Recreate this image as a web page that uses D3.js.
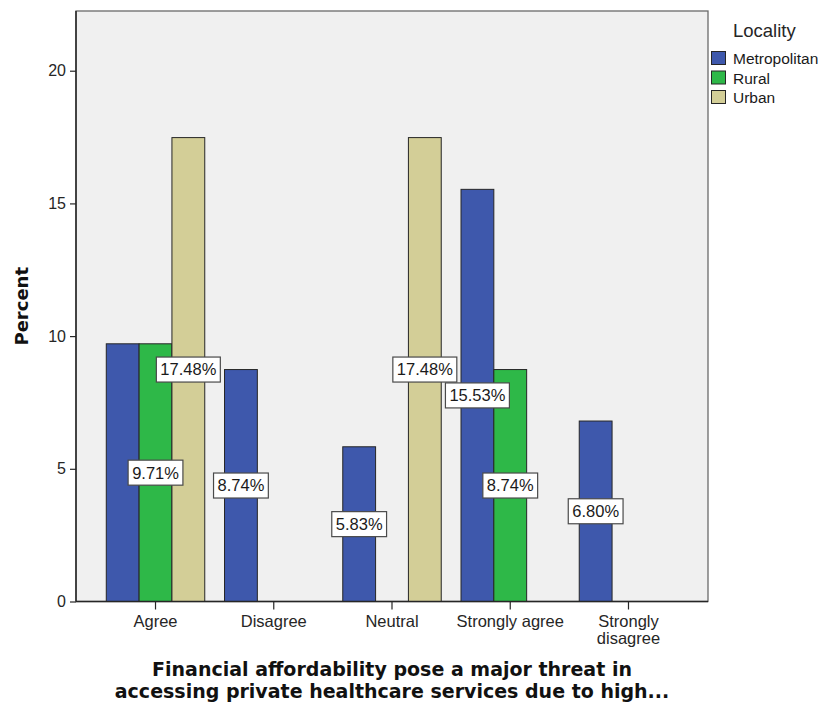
<!DOCTYPE html>
<html>
<head>
<meta charset="utf-8">
<script src="https://cdn.jsdelivr.net/npm/d3@7/dist/d3.min.js"></script>
<style>
  html, body { margin: 0; padding: 0; background: #ffffff; }
  svg { display: block; }
  .lbl { font-family: "Liberation Sans", Arial, sans-serif; }
  .ttl { font-family: "DejaVu Sans", Verdana, sans-serif; font-weight: bold; }
</style>
</head>
<body>
<svg id="chart" width="822" height="704"></svg>
<script>
// Response categories and share of respondents (%) per locality
const categories = ["Agree", "Disagree", "Neutral", "Strongly agree", "Strongly disagree"];
const localities = ["Metropolitan", "Rural", "Urban"];
const metropolitan = [9.71, 8.74, 5.83, 15.53, 6.80];
const rural        = [9.71, 0, 0, 8.74, 0];
const urban        = [17.48, 0, 17.48, 0, 0];
const yTicks = [0, 5, 10, 15, 20];
const colors = ["#3e58ac", "#2eb848", "#d3ce97"];

const seriesValues = [metropolitan, rural, urban];

const svg = d3.select("#chart");
const plot = { left: 76, right: 708, top: 11, bottom: 601.5 };

const x0 = d3.scaleBand()
  .domain(categories)
  .range([plot.left, plot.right])
  .paddingInner(0)
  .paddingOuter(0.1725);

const x1 = d3.scaleBand()
  .domain(localities)
  .range([0, x0.bandwidth()])
  .paddingInner(0)
  .paddingOuter(0.301);

const y = d3.scaleLinear()
  .domain([0, 22.25])
  .range([plot.bottom, plot.top]);

const color = d3.scaleOrdinal().domain(localities).range(colors);

// plot background
svg.append("rect")
  .attr("x", plot.left).attr("y", plot.top)
  .attr("width", plot.right - plot.left)
  .attr("height", plot.bottom - plot.top)
  .attr("fill", "#f0f0f0")
  .attr("stroke", "#6a6a6a")
  .attr("stroke-width", 1.3);

// bars
const rows = [];
categories.forEach((c, ci) => {
  localities.forEach((l, li) => {
    rows.push({ category: c, locality: l, value: seriesValues[li][ci] });
  });
});
const drawn = rows.filter(d => d.value > 0);

svg.append("g")
  .selectAll("rect")
  .data(drawn)
  .join("rect")
  .attr("x", d => x0(d.category) + x1(d.locality))
  .attr("y", d => y(d.value))
  .attr("width", x1.bandwidth())
  .attr("height", d => y(0) - y(d.value))
  .attr("fill", d => color(d.locality))
  .attr("stroke", "#262626")
  .attr("stroke-width", 1);

// y axis
const yAxis = svg.append("g")
  .attr("transform", `translate(${plot.left},0)`)
  .call(d3.axisLeft(y).tickValues(yTicks).tickSize(6).tickPadding(4).tickFormat(d3.format("d")));
yAxis.select(".domain").remove();
yAxis.selectAll(".tick line").attr("stroke", "#262626").attr("stroke-width", 1.2);
yAxis.selectAll(".tick text")
  .attr("class", "lbl")
  .style("font-size", "16px")
  .attr("fill", "#262626");

// x axis
const xAxis = svg.append("g")
  .attr("transform", `translate(0,${plot.bottom})`)
  .call(d3.axisBottom(x0).tickSize(8).tickPadding(6));
xAxis.select(".domain").remove();
xAxis.selectAll(".tick line").attr("stroke", "#262626").attr("stroke-width", 1.2);
xAxis.selectAll(".tick text")
  .attr("class", "lbl")
  .style("font-size", "16.5px")
  .attr("fill", "#262626")
  .each(function(d) {
    const t = d3.select(this);
    if (this.getComputedTextLength() > x0.step() - 6) {
      const words = d.split(" ");
      t.text(null);
      words.forEach((w, i) => {
        t.append("tspan").attr("x", 0).attr("dy", i === 0 ? "0.71em" : "1.0em").text(w);
      });
      t.attr("dy", null);
    }
  });

// axis lines
svg.append("line")
  .attr("x1", plot.left).attr("x2", plot.left)
  .attr("y1", plot.top).attr("y2", plot.bottom)
  .attr("stroke", "#262626").attr("stroke-width", 1.5);
svg.append("line")
  .attr("x1", plot.left).attr("x2", plot.right)
  .attr("y1", plot.bottom).attr("y2", plot.bottom)
  .attr("stroke", "#262626").attr("stroke-width", 1.5);

// value labels at bar mid-height
const labelLayer = svg.append("g");
const boxes = drawn.map(d => {
  const cx = x0(d.category) + x1(d.locality) + x1.bandwidth() / 2;
  const cy = y(d.value / 2);
  const g = labelLayer.append("g").attr("transform", `translate(${cx},${cy})`);
  const r = g.append("rect").attr("fill", "#ffffff").attr("stroke", "#4a4a4a").attr("stroke-width", 1.2);
  const t = g.append("text")
    .attr("class", "lbl")
    .attr("text-anchor", "middle")
    .attr("dy", "0.36em")
    .style("font-size", "16.5px")
    .attr("fill", "#1a1a1a")
    .text(d3.format(".2f")(d.value) + "%");
  const w = t.node().getComputedTextLength() + 8;
  const h = 25;
  r.attr("x", -w / 2).attr("y", -h / 2).attr("width", w).attr("height", h);
  return { g, x0: cx - w / 2, x1: cx + w / 2, y0: cy - h / 2, y1: cy + h / 2 };
});
// a label covered by a later one is hidden
boxes.forEach((b, i) => {
  const hit = boxes.slice(i + 1).some(o =>
    b.x0 < o.x1 - 0.5 && o.x0 < b.x1 - 0.5 && b.y0 < o.y1 - 0.5 && o.y0 < b.y1 - 0.5);
  if (hit) b.g.remove();
});

// axis titles
svg.append("text")
  .attr("class", "ttl")
  .attr("transform", `translate(28,${(plot.top + plot.bottom) / 2}) rotate(-90)`)
  .attr("text-anchor", "middle")
  .style("font-size", "18px")
  .attr("fill", "#111")
  .text("Percent");

const xTitle = svg.append("text")
  .attr("class", "ttl")
  .attr("text-anchor", "middle")
  .style("font-size", "19px")
  .attr("fill", "#111");
["Financial affordability pose a major threat in",
 "accessing private healthcare services due to high..."].forEach((line, i) => {
  xTitle.append("tspan").attr("x", 392).attr("y", 676 + i * 22).text(line);
});

// legend
const legend = svg.append("g");
legend.append("text")
  .attr("class", "lbl")
  .attr("x", 733).attr("y", 37)
  .style("font-size", "18.5px")
  .attr("fill", "#262626")
  .text("Locality");
const items = legend.selectAll("g.item")
  .data(localities)
  .join("g")
  .attr("class", "item")
  .attr("transform", (d, i) => `translate(711.5,${51.5 + i * 19.5})`);
items.append("rect")
  .attr("width", 14).attr("height", 13)
  .attr("fill", d => color(d))
  .attr("stroke", "#262626").attr("stroke-width", 1);
items.append("text")
  .attr("class", "lbl")
  .attr("x", 21.5).attr("y", 12.5)
  .style("font-size", "15.5px")
  .attr("fill", "#1a1a1a")
  .text(d => d);
</script>
</body>
</html>
